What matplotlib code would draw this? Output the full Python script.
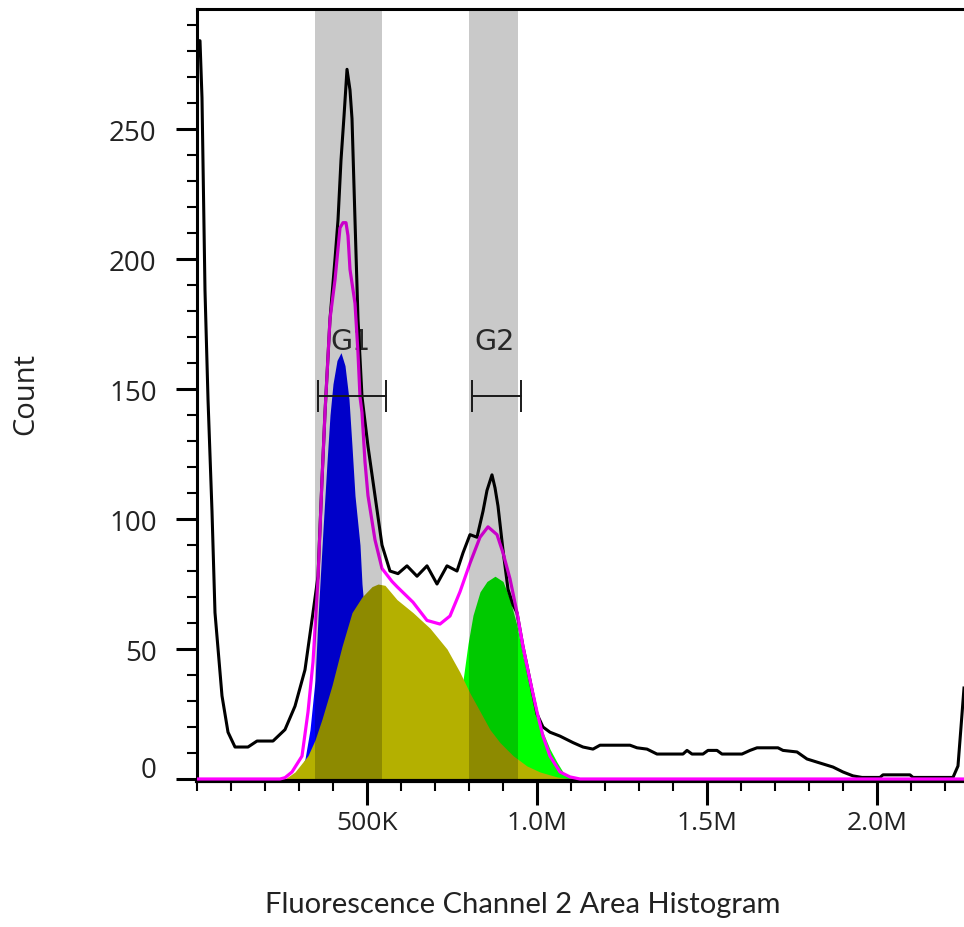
import matplotlib
matplotlib.use("Agg")
import matplotlib.pyplot as plt
from matplotlib.ticker import MultipleLocator, FixedLocator, FixedFormatter

# Channel values are in thousands (K); counts per bin.
total_x = [0, 8.8, 14.7, 23.5, 32.4, 44.1, 52.9, 73.5, 91.2, 111.8, 150, 176.5, 223.5,
           258.8, 288.2, 317.6, 341.2, 355.9, 367.6, 376.5, 391.2, 405.9, 414.7, 423.5,
           432.4, 441.2, 450, 455.9, 464.7, 473.5, 485.3, 502.9, 523.5, 544.1, 567.6,
           591.2, 617.6, 647.1, 676.5, 705.9, 735.3, 764.7, 782.4, 802.9, 823.5, 841.2,
           852.9, 867.6, 876.5, 885.3, 900, 914.7, 929.4, 941.2, 958.8, 979.4, 1000,
           1017.6, 1038.2, 1067.6, 1105.9, 1135.3, 1164.7, 1185.3, 1273.5, 1294.1,
           1323.5, 1352.9, 1429.4, 1441.2, 1455.9, 1488.2, 1502.9, 1529.4, 1544.1,
           1602.9, 1626.5, 1647.1, 1708.8, 1723.5, 1764.7, 1794.1, 1823.5, 1870.6,
           1900, 1929.4, 1955.9, 2008.8, 2017.6, 2097.1, 2105.9, 2223.5, 2238.2,
           2247.1, 2255.9]
total_count = [284, 284, 262, 188, 146, 103, 64, 32, 18, 12.3, 12.3, 14.6, 14.6,
               19, 28, 42, 64, 78, 115, 141, 177, 200, 215, 238,
               255, 273, 265, 254, 215, 177, 147, 128, 109, 90, 80,
               79, 82, 78, 82, 75, 82, 80, 87, 94, 93, 103,
               111, 117, 112, 105, 88, 73, 67, 64, 51, 38, 25,
               20, 18, 16.5, 14, 12.3, 11.5, 13, 13, 12,
               11.5, 9.6, 9.6, 11, 9.6, 9.6, 11, 11, 9.6,
               9.6, 11, 12, 12, 11, 10.4, 7.7, 6.5, 4.6,
               2.7, 1.2, 0.6, 0.6, 1.6, 1.6, 0.6, 0.6, 5,
               20, 35]

fit_x = [0, 244.1, 258.8, 279.4, 308.8, 326.5, 341.2, 355.9, 367.6, 376.5, 391.2,
         405.9, 420.6, 429.4, 438.2, 444.1, 450, 464.7, 473.5, 479.4, 485.3, 494.1,
         502.9, 523.5, 544.1, 573.5, 588.2, 635.3, 676.5, 714.7, 744.1, 773.5,
         802.9, 832.4, 855.9, 882.4, 900, 920.6, 941.2, 958.8, 979.4, 1000,
         1017.6, 1038.2, 1067.6, 1097.1, 1126.5, 2260]
fit_count = [0, 0, 0.5, 2.7, 8.8, 25.8, 45, 77, 115, 141, 177,
             192, 212, 214, 214, 209, 196, 183, 164, 147, 141, 122,
             109, 92, 81, 76, 74, 68, 61, 59.6, 62.7, 72,
             83, 93, 97, 94, 87, 77, 64, 51, 38, 25.8,
             16.5, 8.8, 2.7, 0.8, 0, 0]

g1_x = [273.5, 288.2, 302.9, 317.6, 332.4, 347.1, 355.9, 370.6, 382.4, 391.2, 400,
        411.8, 423.5, 435.3, 447.1, 455.9, 464.7, 479.4, 485.3, 497.1, 508.8,
        523.5, 538.2, 552.9, 567.6, 580.9, 597]
g1_count = [0, 1, 3, 7.7, 19, 38, 62, 96, 122, 140, 152,
            161, 164, 159, 146, 128, 109, 90, 75, 57, 42,
            27, 16, 9, 4, 1.5, 0]

s_x = [258.8, 288.2, 326.5, 347.1, 367.6, 397.1, 426.5, 455.9, 485.3, 514.7, 532.4,
       552.9, 588.2, 635.3, 685.3, 735.3, 773.5, 802.9, 832.4, 861.8, 891.2,
       929.4, 970.6, 1008.8, 1058.8, 1097.1]
s_count = [0, 2.7, 9, 15, 23, 36, 51, 64, 70, 74, 75,
           74.5, 69, 64, 58, 50, 41, 33, 26, 19, 14,
           9, 5, 2.7, 0.8, 0]

g2_x = [685.3, 708.8, 729.4, 750, 767.6, 782.4, 797.1, 811.8, 832.4, 852.9, 876.5,
        900, 920.6, 941.2, 958.8, 979.4, 1000, 1017.6, 1038.2, 1058.8, 1076.5,
        1097.1, 1120.6]
g2_count = [0, 2, 6, 14, 25, 38, 52, 63, 72, 76, 78,
            76, 69, 59, 47, 36, 26, 18, 11.5, 6.5, 2.7,
            0.8, 0]

gate_names = ["G1", "G2"]
gate_bands = [(347, 544), (800, 944)]
gate_markers = [(356, 556), (809, 953)]
gate_level = 147.3

x_tick_pos = [500, 1000, 1500, 2000]
x_tick_labels = ["500K", "1.0M", "1.5M", "2.0M"]
y_tick_pos = [0, 50, 100, 150, 200, 250]

W, H = 964, 928
fig = plt.figure(figsize=(W / 100, H / 100), dpi=100)
ax = fig.add_axes([197 / W, (H - 782) / H, 1 - 197 / W, (782 - 10) / H])
ax.set_xlim(0, 2255.9)
ax.set_ylim(-0.77, 296.2)

# model components, S phase drawn over the G1/G2 peaks
ax.fill_between(g1_x, g1_count, 0, color="#0000ff", lw=0, zorder=1)
ax.fill_between(g2_x, g2_count, 0, color="#00ff00", lw=0, zorder=1)
ax.fill_between(s_x, s_count, 0, color="#b4b000", lw=0, zorder=1.2)

# gate labels sit beneath the curves
for name, (a, b) in zip(gate_names, gate_markers):
    ax.text((a + b) / 2 - 5, 168.5, name, ha="center", va="center",
            fontsize=20.5, color="#333333", family="DejaVu Sans", zorder=1.5)

ax.plot(total_x, total_count, color="black", lw=2.2, zorder=2, solid_joinstyle="round")
ax.plot(fit_x, fit_count, color="#ff00ff", lw=2.3, zorder=3, solid_joinstyle="round")

for a, b in gate_bands:
    ax.axvspan(a, b, color="black", alpha=0.21, lw=0, zorder=4)

for a, b in gate_markers:
    ax.plot([a, b], [gate_level, gate_level], color="#1a1a1a", lw=1.4, zorder=6)
    ax.vlines([a, b], gate_level - 6, gate_level + 6, color="#1a1a1a", lw=1.4, zorder=6)

ax.spines["right"].set_visible(False)
ax.spines["left"].set_linewidth(2.2)
ax.spines["top"].set_linewidth(2.2)
ax.spines["bottom"].set_linewidth(3)

tick_font = "Open Sans"
ax.xaxis.set_major_locator(FixedLocator(x_tick_pos))
ax.xaxis.set_major_formatter(FixedFormatter(x_tick_labels))
ax.xaxis.set_minor_locator(MultipleLocator(100))
ax.yaxis.set_major_locator(FixedLocator(y_tick_pos))
ax.yaxis.set_major_formatter(FixedFormatter([""] + [str(v) for v in y_tick_pos[1:]]))
ax.yaxis.set_minor_locator(MultipleLocator(10))

ax.tick_params(axis="y", which="major", length=15, width=2.2, pad=14, labelsize=20)
ax.tick_params(axis="y", which="minor", length=7.5, width=1.5)
ax.tick_params(axis="x", which="major", length=17, width=2.2, pad=4, labelsize=19)
ax.tick_params(axis="x", which="minor", length=7.5, width=1.5)
for lab in ax.get_xticklabels() + ax.get_yticklabels():
    lab.set_family(tick_font)
    lab.set_color("#222222")

fig.text(157 / W, (H - 771) / H, "0", ha="right", va="center", fontsize=20,
         family=tick_font, color="#222222")

fig.text(26 / W, (H - 394) / H, "Count", rotation=90, ha="center", va="center",
         fontsize=21, family=tick_font, color="#222222")
fig.text(523 / W, (H - 905) / H, "Fluorescence Channel 2 Area Histogram",
         ha="center", va="center", fontsize=21, family="Lato", color="#222222")

fig.savefig("out.png", dpi=100)
